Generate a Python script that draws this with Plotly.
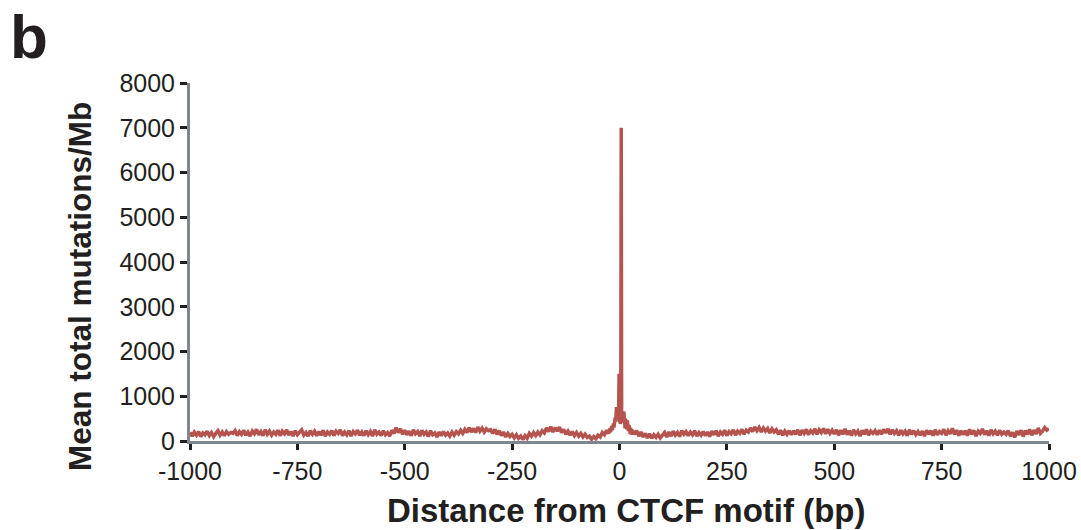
import plotly.graph_objects as go

# Distance (bp) and mean total mutations/Mb
left_pos = list(range(-1000, -20, 5))
left_vals = [
    190,110,200,130,210,100,180,140,220,120,190,100,170,230,130,200,120,210,150,190,
    170,230,120,210,150,240,130,200,110,220,160,260,140,210,120,250,150,220,130,200,
    150,240,120,220,160,250,130,210,110,230,140,200,250,130,190,110,230,150,220,120,
    210,130,240,110,200,150,230,120,220,170,250,120,200,140,230,110,210,160,240,130,
    200,120,230,140,210,110,250,150,200,120,230,140,190,110,240,170,300,190,270,150,
    240,140,220,120,250,160,210,110,240,150,200,100,230,140,180,90,200,120,210,130,
    180,110,200,130,210,160,240,170,260,190,300,200,280,190,310,220,290,200,270,230,
    250,170,260,150,230,120,200,90,170,100,150,70,140,60,110,30,120,60,170,110,
    190,120,200,140,230,180,290,210,320,200,300,220,310,190,260,150,220,130,210,120,
    190,110,170,90,150,80,110,40,100,50,130,90,190,140,240,170,
]
center_pos = list(range(-24, 30))
center_vals = [
    260,180,280,200,310,220,330,240,360,270,
    390,300,430,350,520,430,640,760,620,700,
    560,480,650,1500,420,600,380,500,7000,420,
    700,480,640,420,660,360,560,280,500,380,
    420,260,460,240,380,220,360,180,320,160,300,140,260,170,
]
right_pos = list(range(30, 1001, 5))
right_vals = [
    240,150,230,110,200,90,170,70,160,60,140,80,150,70,
    130,190,90,200,110,220,130,190,100,230,150,210,120,200,140,230,110,190,130,210,
    120,200,100,220,140,230,110,200,150,240,120,210,160,250,130,220,170,260,150,240,
    200,290,210,310,230,300,200,290,220,280,180,270,200,250,150,240,130,220,150,230,
    140,230,150,250,130,240,170,260,140,230,180,270,150,250,190,280,160,260,170,240,
    160,250,130,240,150,270,140,230,120,250,160,220,110,240,150,260,130,220,170,230,
    140,240,150,260,180,270,150,250,170,230,130,240,160,220,120,250,150,230,140,210,
    130,220,110,240,150,230,120,250,140,210,170,260,130,230,160,280,150,240,120,230,
    140,230,120,260,150,240,110,220,170,270,140,230,120,250,160,220,130,240,150,200,
    150,230,110,190,80,220,140,240,100,230,150,260,130,240,160,290,170,220,300,240,
    280,
]

x = left_pos + center_pos + right_pos
y = left_vals + center_vals + right_vals

x_ticks = [-1000, -750, -500, -250, 0, 250, 500, 750, 1000]
y_ticks = [0, 1000, 2000, 3000, 4000, 5000, 6000, 7000, 8000]

FONT = "Liberation Sans, Arial, Helvetica, sans-serif"
TXT = "#231f20"

fig = go.Figure()
fig.add_trace(go.Scatter(
    x=x, y=y, mode="lines",
    line=dict(color="#b5544f", width=3.5),
    hoverinfo="skip", showlegend=False,
))

fig.update_layout(
    width=1081, height=530,
    margin=dict(l=190, r=32, t=83, b=89),
    paper_bgcolor="white", plot_bgcolor="white",
    font=dict(family=FONT, color=TXT, size=22),
    annotations=[
        dict(text="<b>b</b>", x=8, y=0, xref="paper", yref="paper",
             xanchor="left", yanchor="top", showarrow=False,
             font=dict(family=FONT, size=62, color=TXT)),
        dict(text="<b>Mean total mutations/Mb</b>", x=80, y=286,
             xref="paper", yref="paper", showarrow=False, textangle=-90,
             xanchor="center", yanchor="middle",
             font=dict(family=FONT, size=31.5, color=TXT)),
        dict(text="<b>Distance from CTCF motif (bp)</b>", x=626, y=510,
             xref="paper", yref="paper", showarrow=False,
             xanchor="center", yanchor="middle",
             font=dict(family=FONT, size=33, color=TXT)),
    ],
)

# convert pixel positions of annotations to paper coordinates
pl, pr, pt, pb = 190, 1081 - 32, 83, 530 - 89
for a in fig.layout.annotations:
    px, py = a.x, a.y
    a.x = (px - pl) / (pr - pl)
    a.y = (pb - py) / (pb - pt)

fig.update_xaxes(
    range=[-1000, 1000], tickvals=x_ticks, ticktext=[str(v) for v in x_ticks],
    showgrid=False, zeroline=False, automargin=False,
    showline=True, linecolor="#7e878d", linewidth=3,
    ticks="outside", ticklen=6, tickwidth=3, tickcolor=TXT,
    tickfont=dict(size=25, family=FONT, color=TXT),
)
fig.update_yaxes(
    range=[0, 8000], tickvals=y_ticks, ticktext=[str(v) for v in y_ticks],
    showgrid=False, zeroline=False, automargin=False,
    showline=True, linecolor="#7e878d", linewidth=3,
    ticks="outside", ticklen=7, tickwidth=3, tickcolor=TXT,
    tickfont=dict(size=25, family=FONT, color=TXT),
)

fig.write_html("out.html")
